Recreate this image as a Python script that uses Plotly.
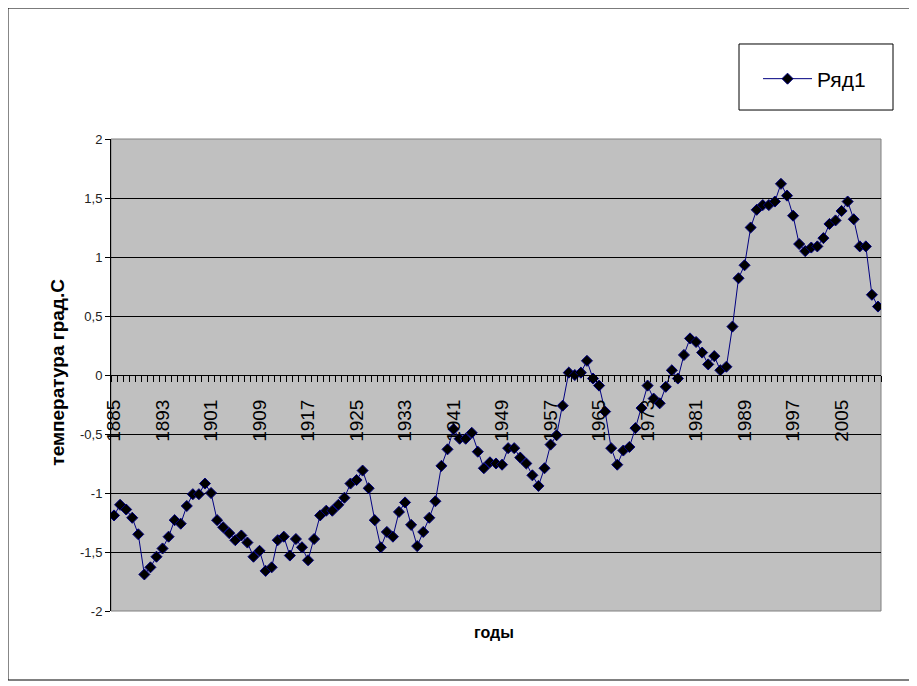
"""
plot.py
Excel-style line chart: temperature anomaly by year (1885-2011).
"""

import plotly.graph_objects as go

# ── Data ────────────────────────────────────────────────────────────────────
years = list(range(1885, 2012))

temps = [
    -1.19, -1.10, -1.14, -1.21, -1.35, -1.69, -1.63, -1.54, -1.47, -1.37,
    -1.23, -1.26, -1.11, -1.01, -1.01, -0.92, -1.00, -1.23, -1.29, -1.34,
    -1.40, -1.36, -1.42, -1.54, -1.49, -1.66, -1.63, -1.40, -1.37, -1.53,
    -1.39, -1.46, -1.57, -1.39, -1.19, -1.15, -1.15, -1.10, -1.04, -0.92,
    -0.89, -0.81, -0.96, -1.23, -1.46, -1.33, -1.37, -1.16, -1.08, -1.27,
    -1.45, -1.33, -1.21, -1.07, -0.77, -0.63, -0.46, -0.54, -0.54, -0.49,
    -0.65, -0.79, -0.74, -0.75, -0.76, -0.62, -0.62, -0.70, -0.75, -0.85,
    -0.94, -0.79, -0.59, -0.51, -0.26, 0.02, 0.00, 0.02, 0.12, -0.03,
    -0.09, -0.31, -0.62, -0.76, -0.64, -0.61, -0.45, -0.28, -0.09, -0.20,
    -0.24, -0.10, 0.04, -0.03, 0.17, 0.31, 0.28, 0.19, 0.09, 0.16,
    0.04, 0.07, 0.41, 0.82, 0.93, 1.25, 1.40, 1.44, 1.44, 1.47,
    1.62, 1.52, 1.35, 1.11, 1.05, 1.08, 1.09, 1.16, 1.28, 1.31,
    1.39, 1.47, 1.32, 1.09, 1.09, 0.68, 0.58,
]

x_tickvals = list(range(1885, 2012, 8))
x_ticktext = [str(y) for y in x_tickvals]

y_tickvals = [-2, -1.5, -1, -0.5, 0, 0.5, 1, 1.5, 2]
y_ticktext = ["-2", "-1,5", "-1", "-0,5", "0", "0,5", "1", "1,5", "2"]

# ── Theme ───────────────────────────────────────────────────────────────────
FONT = "Liberation Sans, Arial, sans-serif"
NAVY = "#000080"
PLOT_BG = "#c0c0c0"

fig = go.Figure()
fig.add_trace(go.Scatter(
    x=years, y=temps,
    name="Ряд1", mode="lines+markers",
    line=dict(color=NAVY, width=1),
    marker=dict(symbol="diamond", size=8.5, color="#000000",
                line=dict(color=NAVY, width=1)),
))

fig.update_layout(
    width=917, height=686,
    paper_bgcolor="white",
    plot_bgcolor=PLOT_BG,
    font=dict(family=FONT, color="black"),
    # page body adds an 8px offset, so margins are shifted to compensate
    margin=dict(l=103, r=44, t=131, b=83),
    showlegend=True,
    legend=dict(
        x=0.8403, y=1.1271, xanchor="left", yanchor="middle",
        bgcolor="rgba(0,0,0,0)", itemwidth=49,
        font=dict(size=21, family=FONT, color="black"),
    ),
    xaxis=dict(
        range=[1884.5, 2011.5],
        anchor="free", position=0.5,
        showline=True, linecolor="black", linewidth=1,
        showgrid=False, zeroline=False,
        tickmode="array", tickvals=x_tickvals, ticktext=x_ticktext,
        tickangle=-90, ticks="", ticklabelstandoff=16,
        tickfont=dict(size=19, family=FONT, color="black"),
        minor=dict(ticks="outside", ticklen=6, tickcolor="black",
                   tick0=1884.5, dtick=1, showgrid=False),
    ),
    yaxis=dict(
        range=[-2, 2],
        showline=True, linecolor="black", linewidth=1,
        showgrid=True, gridcolor="black", gridwidth=1,
        zeroline=False,
        tickmode="array", tickvals=y_tickvals, ticktext=y_ticktext,
        ticks="outside", ticklen=5, tickcolor="black",
        tickfont=dict(size=13, family=FONT, color="#222222"),
    ),
)

# plot area frame, legend box and outer chart border
fig.add_shape(type="rect", xref="paper", yref="paper", x0=0, x1=1, y0=0, y1=1,
              line=dict(color="#808080", width=1), layer="below")
fig.add_shape(type="rect", xref="paper", yref="paper",
              x0=0.8156, x1=1.0156, y0=1.0614, y1=1.2013,
              line=dict(color="black", width=1))
fig.add_shape(type="rect", xref="paper", yref="paper",
              x0=-0.1338, x1=1.0377, y0=-0.1462, y1=1.2775,
              line=dict(color="black", width=1))

# axis titles
fig.add_annotation(text="<b>годы</b>", xref="paper", yref="paper",
                   x=0.497, y=-0.0678, showarrow=False,
                   font=dict(size=16, family=FONT, color="black"))
fig.add_annotation(text="<b>температура град.С</b>", xref="paper", yref="paper",
                   x=-0.0857, y=0.506, textangle=-90, showarrow=False,
                   font=dict(size=19, family=FONT, color="black"))

fig.write_html("out.html")
